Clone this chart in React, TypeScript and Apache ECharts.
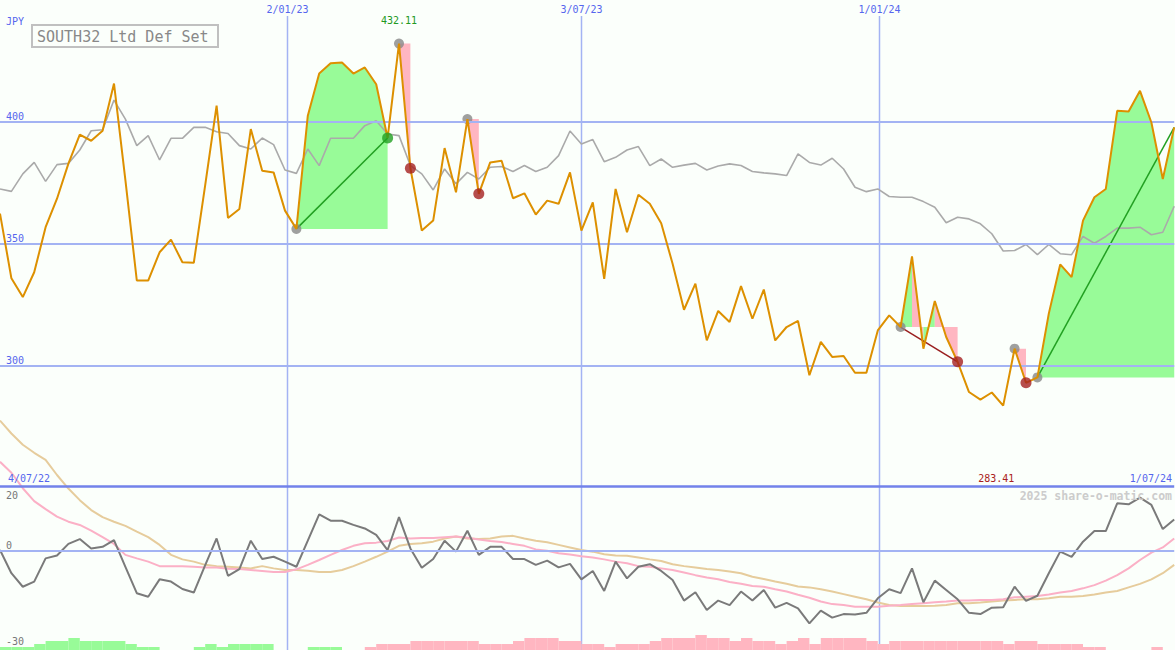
import React, { useEffect, useRef } from "react";
import * as echarts from "echarts";

// ---- data (weekly points, index 0 = first week) ----
const price = [
  362.3, 335.7, 328, 338.2, 356.7, 368.4, 382.8, 394.7, 392.2, 396.3,
  415.7, 376, 334.8, 334.8, 346.4, 351.6, 342.3, 342.1, 374, 406.6,
  360.5, 364.2, 397, 379.9, 379.2, 363.5, 356, 402.5, 419.8, 424,
  424.3, 419.8, 422.3, 415.4, 393.3, 432.11, 380.9, 355.3, 359.4, 389.2,
  371, 401.1, 370.4, 383.3, 384, 368.6, 370.6, 361.9, 367.6, 366.3,
  379.2, 355.3, 366.9, 335.5, 372.4, 354.6, 370, 366.3, 358.3, 341.7,
  322.8, 333.5, 310.2, 322.3, 317.8, 332.5, 319.1, 331.1, 310.2, 315.7,
  318.2, 295.9, 309.6, 303.4, 303.8, 296.9, 296.9, 314.3, 320.5, 315.7,
  344.7, 306.8, 326.4, 311.6, 301.4, 289, 285.9, 288.8, 283.41, 306.8,
  292.8, 295, 321.2, 341.4, 336.2, 359.4, 369, 372.4, 404.5, 404.2,
  412.7, 399.7, 376.5, 397.7,
];
const relative = [
  372.4, 371.4, 378.6, 383.3, 375.5, 382.4, 382.9, 388.4, 396.3, 396.7,
  408.9, 401.1, 390.2, 394.3, 384.3, 393.2, 393.2, 397.7, 397.7, 395.9,
  395.2, 390.2, 388.8, 393.3, 390.6, 380.2, 378.8, 388.8, 382, 393.2,
  393.2, 393.2, 398.4, 400.4, 395, 394.3, 382, 378.6, 372, 380.6,
  374.5, 379.2, 376.5, 381.3, 381.6, 379.6, 382, 379.6, 381.3, 386.1,
  396.2, 390.9, 392.7, 383.6, 385.4, 388.4, 389.8, 382, 384.7, 381.3,
  382.2, 382.9, 380.2, 381.8, 382.7, 382, 379.6, 379, 378.6, 377.9,
  386.8, 383.3, 382.2, 385, 380.6, 373.1, 371.3, 372.4, 369.3, 369,
  369, 367.2, 364.9, 358.5, 360.8, 360.1, 358.1, 354, 346.9, 347.1,
  349.6, 345.4, 349.6, 345.8, 345.4, 352.9, 350.1, 352.9, 356.3, 356.3,
  356.7, 353.6, 354.6, 365.3,
];
const oscillator = [
  0.3, -6.9, -11.1, -9.5, -2.3, -1.4, 2.2, 3.7, 0.8, 1.3,
  3.4, -4.9, -13.1, -14.2, -8.8, -9.5, -11.8, -12.9, -4.4, 3.9,
  -7.7, -5.6, 3.2, -2.5, -1.8, -3.3, -4.9, 3.2, 11.4, 9.4,
  9.4, 8.1, 7, 5, 0.3, 10.5, 0.8, -5.2, -2.5, 3.2,
  -0.2, 6.3, -1.2, 1.3, 1.3, -2.5, -2.5, -4.3, -3, -5.1,
  -4, -8.8, -6.2, -12.4, -3.3, -8.5, -4.9, -4.1, -6.2, -9,
  -15.4, -12.8, -18.3, -15.4, -16.8, -12.6, -15.4, -12.1, -17.6, -16.1,
  -17.8, -22.5, -18.5, -20.7, -19.6, -19.7, -19.2, -14.7, -11.9, -13.1,
  -5.4, -15.9, -9.2, -12.1, -15, -19.2, -19.6, -17.6, -17.5, -11.1,
  -15.5, -13.9, -6.9, -0.2, -1.8, 2.9, 6.2, 6.2, 14.8, 14.5,
  16.6, 14.3, 6.8, 9.8,
];
const fastAvg = [
  27.7, 24.3, 19.5, 15.5, 13, 10.7, 9.1, 8.1, 6.3, 4.3,
  2.2, -1.2, -2.3, -3.3, -4.7, -4.7, -4.7, -4.9, -5.1, -5.1,
  -5.5, -5.6, -5.9, -6.2, -6.5, -6.5, -5.7, -4.3, -2.8, -1.2,
  0.3, 1.6, 2.4, 2.6, 3.1, 4.2, 3.9, 4, 4, 4.3,
  4.5, 4.1, 3.6, 3.1, 2.8, 2.2, 1.6, 0.5, 0.1, -0.7,
  -1.1, -1.6, -2, -2.6, -3.3, -3.8, -4.7, -4.9, -5.4, -5.9,
  -6.7, -7.5, -8.2, -8.8, -9.6, -10.2, -10.9, -11.1, -11.9, -12.6,
  -13.6, -14.5, -15.7, -16.5, -16.8, -17.3, -17.3, -17.3, -17, -16.8,
  -16.5, -16.2, -15.9, -15.7, -15.4, -15.4, -15.2, -15.2, -15, -14.4,
  -14.2, -14, -13.5, -12.9, -12.4, -11.6, -10.6, -9.2, -7.5, -5.4,
  -2.8, -0.5, 1.1, 3.9,
];
const slowAvg = [
  40.5, 36.5, 33, 30.5, 28.3, 23.6, 19.4, 15.8, 12.7, 10.5,
  9.1, 7.8, 6, 4.3, 1.9, -1.2, -2.6, -3.3, -4.3, -4.7,
  -4.9, -5.1, -5.4, -4.7, -5.4, -5.9, -5.9, -6.1, -6.5, -6.5,
  -5.9, -4.7, -3.3, -1.8, -0.2, 1.6, 2.2, 2.4, 2.9, 3.9,
  4.5, 3.9, 3.7, 3.9, 4.5, 4.7, 3.9, 3.2, 2.7, 1.9,
  1.1, 0.3, -0.2, -1, -1.4, -1.5, -2, -2.6, -3.1, -4.1,
  -4.7, -5.1, -5.6, -5.9, -6.4, -6.9, -8, -8.7, -9.5, -10.2,
  -11, -11.3, -11.9, -12.6, -13.4, -14.2, -15, -16, -16.8, -17.1,
  -17.1, -17.1, -17, -16.8, -16.2, -16.2, -16, -15.7, -15.4, -15.2,
  -15, -15, -14.7, -14.2, -14.2, -14, -13.5, -12.9, -12.4, -11.3,
  -10.2, -8.8, -6.9, -4.3,
];
// positive = green bar, negative = pink bar
const histogram = [
  1, 1, 1, 2, 3, 3, 4, 3, 3, 3,
  3, 2, 1, 1, 0, 0, 0, 1, 2, 1,
  2, 2, 2, 2, 0, 0, 0, 1, 1, 1,
  0, 0, -1, -2, -2, -2, -3, -3, -3, -3,
  -3, -3, -2, -2, -2, -3, -4, -4, -4, -3,
  -3, -2, -2, -1, -2, -2, -2, -3, -4, -4,
  -4, -5, -4, -4, -3, -4, -3, -3, -2, -3,
  -4, -2, -4, -4, -4, -4, -3, -2, -3, -3,
  -3, -3, -3, -3, -3, -3, -3, -3, -2, -3,
  -3, -2, -2, -2, -2, -1, -1, 0, 0, 0,
  0, -1, 0, 0,
];
const dateLineLabels = ["2/01/23", "3/07/23", "1/01/24"];
const dateLinePositions = [25.18, 50.96, 77.1];
const startDateLabel = "4/07/22";
const endDateLabel = "1/07/24";
const priceTicks = [300, 350, 400];
const oscTicks = [20, 0, -30];
// [from, to, anchor, direction]
const trendFills = [
  [26, 34, 26, 1], [35, 36, 35, -1], [41, 42, 41, -1],
  [79, 80, 79, 1], [80, 81, 79, -1], [81, 82, 79, 1], [82, 84, 79, -1],
  [89, 90, 89, -1], [91, 103, 91, 1],
];
const trendLines = [[26, 34, 1], [79, 84, -1], [91, 103, 1]];
const startMarks = [26, 35, 41, 79, 89, 91];
const riseEnds = [34];
const fallEnds = [36, 42, 84, 90];
const highIndex = 35;
const lowIndex = 88;
const title = "SOUTH32 Ltd Def Set";
const currency = "JPY";
const watermark = "2025 share-o-matic.com";

const FONT = '"DejaVu Sans Mono", monospace';
const BG = "#fbfffb";
const BLUE = "#5566ee";
const GRID = "#a3b3f3";
const GREEN_FILL = "#98fb98";
const PINK_FILL = "#ffb6c1";

function txt(text: string, x: number, y: number, color: string, size: number, align = "left", weight = "normal") {
  return {
    type: "text", x, y, z: 100, silent: true,
    style: {
      text, fill: color, fontSize: size, fontFamily: FONT, fontWeight: weight,
      align, textAlign: align, verticalAlign: "middle", textVerticalAlign: "middle",
    },
  };
}

export default function App() {
  const ref = useRef<HTMLDivElement>(null);
  useEffect(() => {
    if (!ref.current) return;
    const chart = echarts.init(ref.current, undefined, { renderer: "svg" });
    const N = price.length;
    const W = (N - 1) * 11.4;
    const pts = (arr: number[]) => arr.map((v, i) => [i, v]);

    const option: any = {
      animation: false,
      backgroundColor: BG,
      grid: [
        { left: 0, top: 0, width: W, height: 487 },
        { left: 0, top: 400, width: W, height: 250 },
        { left: 0, top: 620, width: W, height: 30 },
      ],
      xAxis: [0, 1, 2].map((g) => ({ type: "value", gridIndex: g, min: 0, max: N - 1, show: false })),
      yAxis: [
        { type: "value", gridIndex: 0, min: 250, max: 450, show: false },
        { type: "value", gridIndex: 1, min: -30.75, max: 46.9, show: false },
        { type: "value", gridIndex: 2, min: 0, max: 10, show: false },
      ],
      series: [
        {
          type: "line", xAxisIndex: 0, yAxisIndex: 0, data: [], z: 1, silent: true,
          markLine: {
            silent: true, symbol: "none", animation: false, label: { show: false },
            lineStyle: { color: GRID, width: 2, type: "solid" },
            data: priceTicks.map((v) => ({ yAxis: v })),
          },
        },
        {
          type: "line", xAxisIndex: 1, yAxisIndex: 1, data: [], z: 1, silent: true,
          markLine: {
            silent: true, symbol: "none", animation: false, label: { show: false },
            data: [
              { yAxis: oscTicks[0], lineStyle: { color: "#7282ea", width: 2.5, type: "solid" } },
              { yAxis: oscTicks[1], lineStyle: { color: GRID, width: 2, type: "solid" } },
            ],
          },
        },
        {
          type: "custom", xAxisIndex: 2, yAxisIndex: 2, z: 2, silent: true,
          data: histogram.map((v, i) => [i, v]),
          renderItem: (params: any, api: any) => {
            const i = api.value(0);
            const v = api.value(1);
            if (!v) return null;
            const a = api.coord([i, 0]);
            const b = api.coord([i + 1, Math.abs(v)]);
            return {
              type: "rect",
              shape: { x: a[0], y: b[1], width: b[0] - a[0], height: a[1] - b[1] },
              style: { fill: v > 0 ? GREEN_FILL : PINK_FILL },
            };
          },
        },
        {
          type: "line", xAxisIndex: 1, yAxisIndex: 1, data: pts(slowAvg), symbol: "none", z: 3,
          lineStyle: { color: "#e6cc9c", width: 2 }, silent: true,
        },
        {
          type: "line", xAxisIndex: 1, yAxisIndex: 1, data: pts(fastAvg), symbol: "none", z: 3,
          lineStyle: { color: "#fbb0c6", width: 2 }, silent: true,
        },
        {
          type: "line", xAxisIndex: 1, yAxisIndex: 1, data: pts(oscillator), symbol: "none", z: 4,
          lineStyle: { color: "#7a7a7a", width: 2 }, silent: true,
        },
        {
          type: "custom", xAxisIndex: 0, yAxisIndex: 0, z: 3, silent: true,
          data: trendFills,
          renderItem: (params: any, api: any) => {
            const from = api.value(0);
            const to = api.value(1);
            const level = price[api.value(2)];
            const dir = api.value(3);
            const poly: number[][] = [];
            for (let k = from; k <= to; k++) poly.push(api.coord([k, price[k]]));
            poly.push(api.coord([to, level]));
            poly.push(api.coord([from, level]));
            return { type: "polygon", shape: { points: poly }, style: { fill: dir > 0 ? GREEN_FILL : PINK_FILL } };
          },
        },
        {
          type: "line", xAxisIndex: 0, yAxisIndex: 0, data: pts(relative), symbol: "none", z: 4,
          lineStyle: { color: "#aaaaaa", width: 1.6 }, silent: true,
        },
        ...trendLines.map(([a, b, d]) => ({
          type: "line", xAxisIndex: 0, yAxisIndex: 0, z: 4, symbol: "none", silent: true,
          data: [[a, price[a]], [b, price[b]]],
          lineStyle: { color: d > 0 ? "#22a022" : "#9a2020", width: 1.5 },
        })),
        {
          type: "scatter", xAxisIndex: 0, yAxisIndex: 0, z: 4, silent: true,
          data: startMarks.map((i) => [i, price[i]]), symbolSize: 10,
          itemStyle: { color: "#888888" },
        },
        {
          type: "line", xAxisIndex: 0, yAxisIndex: 0, data: pts(price), symbol: "none", z: 5,
          lineStyle: { color: "#dd9000", width: 2 }, silent: true,
        },
        {
          type: "scatter", xAxisIndex: 0, yAxisIndex: 0, z: 6, silent: true,
          data: riseEnds.map((i) => [i, price[i]]), symbolSize: 11,
          itemStyle: { color: "#22a022" },
        },
        {
          type: "scatter", xAxisIndex: 0, yAxisIndex: 0, z: 6, silent: true,
          data: fallEnds.map((i) => [i, price[i]]), symbolSize: 11,
          itemStyle: { color: "#a52020" },
        },
      ],
    };
    chart.setOption(option);

    const px = (x: number) => chart.convertToPixel({ xAxisIndex: 0 }, x) as number;
    const pyMain = (v: number) => chart.convertToPixel({ yAxisIndex: 0 }, v) as number;
    const pyOsc = (v: number) => chart.convertToPixel({ yAxisIndex: 1 }, v) as number;
    const sepY = pyOsc(oscTicks[0]);

    const graphic: any[] = [];
    dateLinePositions.forEach((p, k) => {
      const x = Math.round(px(p)) + 0.5;
      graphic.push({
        type: "line", z: 0, silent: true,
        shape: { x1: x, y1: 16, x2: x, y2: 650 },
        style: { stroke: GRID, lineWidth: 1.5 },
      });
      graphic.push(txt(dateLineLabels[k], x, 9, BLUE, 10, "center"));
    });
    graphic.push(txt(currency, 6, 21, BLUE, 10));
    priceTicks.forEach((v) => graphic.push(txt(String(v), 6, pyMain(v) - 5, BLUE, 10)));
    graphic.push(txt(String(oscTicks[0]), 6, pyOsc(oscTicks[0]) + 9, "#777777", 10));
    graphic.push(txt(String(oscTicks[1]), 6, pyOsc(oscTicks[1]) - 5, "#777777", 10));
    graphic.push(txt(String(oscTicks[2]), 6, pyOsc(oscTicks[2]) - 6, "#777777", 10));
    graphic.push(txt(startDateLabel, 8, sepY - 8, BLUE, 10));
    graphic.push(txt(endDateLabel, 1172, sepY - 8, BLUE, 10, "right"));
    graphic.push(txt(price[highIndex].toFixed(2), px(highIndex), 20, "#229922", 10, "center"));
    graphic.push(txt(price[lowIndex].toFixed(2), px(lowIndex) - 7, sepY - 8, "#aa2020", 10, "center"));
    graphic.push({
      type: "rect", z: 99, silent: true,
      shape: { x: 32, y: 25, width: 186, height: 22 },
      style: { fill: BG, stroke: "#c0c0c0", lineWidth: 2 },
    });
    graphic.push(txt(title, 37, 36.5, "#888888", 15));
    graphic.push(txt(watermark, 1172, 496, "#cccccc", 11.5, "right", "bold"));

    chart.setOption({ graphic });
    return () => chart.dispose();
  }, []);
  return (
    <div
      ref={ref}
      style={{ position: "fixed", left: 0, top: 0, width: 1175, height: 650, background: BG }}
    />
  );
}
